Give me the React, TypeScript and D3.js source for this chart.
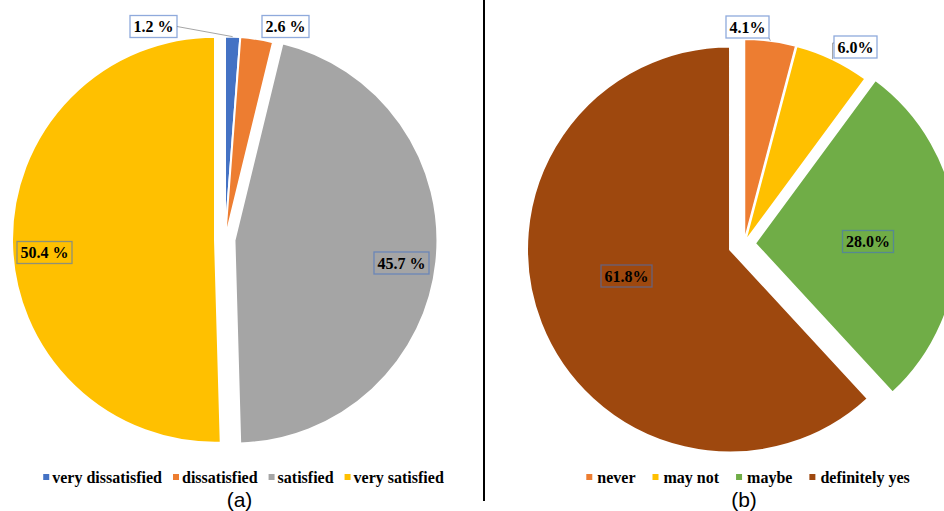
import React, { useEffect } from 'react';
import * as d3 from 'd3';

// Chart (a) satisfaction
const labelsA = ['very dissatisfied', 'dissatisfied', 'satisfied', 'very satisfied'];
const valuesA = [1.2, 2.6, 45.7, 50.4];
const textA = ['1.2 %', '2.6 %', '45.7 %', '50.4 %'];
const colorsA = ['#4472C4', '#ED7D31', '#A5A5A5', '#FFC000'];

// Chart (b) willingness
const labelsB = ['never', 'may not', 'maybe', 'definitely yes'];
const valuesB = [4.1, 6.0, 28.0, 61.8];
const textB = ['4.1%', '6.0%', '28.0%', '61.8%'];
const colorsB = ['#ED7D31', '#FFC000', '#70AD47', '#9E480E'];

const WIDTH = 944;
const HEIGHT = 511;

interface LabelSpot {
  dx: number;
  dy: number;
  boxed: boolean;
  leader: 'none' | 'straight' | 'elbow';
}

interface PieProps {
  labels: string[];
  values: number[];
  texts: string[];
  colors: string[];
  cx: number;
  cy: number;
  r: number;
  explode: number[];
  spots: LabelSpot[];
  legendCenter: number;
  legendGap: number;
  swatchGap: number;
  title: string;
}

const measure = (() => {
  const canvas = typeof document !== 'undefined' ? document.createElement('canvas') : null;
  const ctx = canvas ? canvas.getContext('2d') : null;
  return (text: string, font: string) => {
    if (!ctx) return text.length * 7;
    ctx.font = font;
    return ctx.measureText(text).width;
  };
})();

const SERIF = "'Liberation Serif', 'Times New Roman', serif";
const LABEL_FONT = `bold 16px ${SERIF}`;
const LEGEND_FONT = `bold 16px ${SERIF}`;

const PieChart: React.FC<PieProps> = (p) => {
  const pie = d3.pie<number>().sort(null).value(d => d);
  const arcs = pie(p.values);
  const arc = d3.arc<d3.PieArcDatum<number>>().innerRadius(0).outerRadius(p.r);

  // offset of each exploded slice along its mid angle
  const shift = arcs.map((a, i) => {
    const mid = (a.startAngle + a.endAngle) / 2;
    return [Math.sin(mid) * p.explode[i], -Math.cos(mid) * p.explode[i]];
  });

  // legend layout
  const swatch = 6;
  const widths = p.labels.map(l => measure(l, LEGEND_FONT));
  const itemW = widths.map(w => swatch + p.swatchGap + w);
  const total = d3.sum(itemW) + p.legendGap * (p.labels.length - 1);
  let lx = p.legendCenter - total / 2;
  const legendX = itemW.map(w => {
    const x = lx;
    lx += w + p.legendGap;
    return x;
  });

  return (
    <g>
      {arcs.map((a, i) => (
        <path
          key={p.labels[i]}
          d={arc(a) || ''}
          transform={`translate(${p.cx + shift[i][0]},${p.cy + shift[i][1]})`}
          fill={p.colors[i]}
          stroke="#fff"
          strokeWidth={2}
          strokeLinejoin="round"
        />
      ))}
      {arcs.map((a, i) => {
        const mid = (a.startAngle + a.endAngle) / 2;
        const spot = p.spots[i];
        const tw = measure(p.texts[i], LABEL_FONT);
        const bw = tw + 7;
        const bh = 22;
        const x = p.cx + spot.dx;
        const y = p.cy + spot.dy;
        const ex = p.cx + shift[i][0] + Math.sin(mid) * p.r;
        const ey = p.cy + shift[i][1] - Math.cos(mid) * p.r;
        let leader: string | null = null;
        if (spot.leader !== 'none') {
          const sx = ex < x ? x - bw / 2 : x + bw / 2;
          if (spot.leader === 'straight') {
            const sy = ey > y + bh / 2 ? y + bh / 2 : y;
            leader = `M${sx},${sy}L${ex},${ey}`;
          } else {
            leader = `M${sx},${y - 4}L${ex},${y - 4}L${ex},${ey}`;
          }
        }
        return (
          <g key={'lab' + i}>
            {leader && <path d={leader} fill="none" stroke="#a6a6a6" strokeWidth={1} />}
            <rect
              x={x - bw / 2}
              y={y - bh / 2}
              width={bw}
              height={bh}
              fill={spot.boxed ? '#fff' : 'none'}
              stroke="#4472C4"
              strokeOpacity={0.6}
              strokeWidth={1.3}
            />
            <text
              x={x}
              y={y + 5.5}
              textAnchor="middle"
              fontFamily={SERIF}
              fontWeight="bold"
              fontSize={16}
              fill="#000"
            >
              {p.texts[i]}
            </text>
          </g>
        );
      })}
      {p.labels.map((l, i) => (
        <g key={'leg' + l} transform={`translate(${legendX[i]},0)`}>
          <rect x={0} y={474} width={swatch} height={swatch} fill={p.colors[i]} />
          <text
            x={swatch + p.swatchGap}
            y={482.5}
            fontFamily={SERIF}
            fontWeight="bold"
            fontSize={16}
            fill="#000"
          >
            {l}
          </text>
        </g>
      ))}
      <text
        x={p.legendCenter - 4}
        y={507}
        textAnchor="middle"
        fontFamily="'Liberation Sans', Arial, sans-serif"
        fontSize={21}
        fill="#000"
      >
        {p.title}
      </text>
    </g>
  );
};

export default function App() {
  useEffect(() => {
    document.body.style.margin = '0';
  }, []);

  return (
    <svg width={WIDTH} height={HEIGHT} style={{ display: 'block', background: '#fff' }}>
      <rect width={WIDTH} height={HEIGHT} fill="#fff" />
      <PieChart
        labels={labelsA}
        values={valuesA}
        texts={textA}
        colors={colorsA}
        cx={225}
        cy={239.5}
        r={203}
        explode={[0, 0, 9.5, 10]}
        spots={[
          { dx: -71.5, dy: -213, boxed: true, leader: 'straight' },
          { dx: 60.5, dy: -213, boxed: true, leader: 'none' },
          { dx: 176.5, dy: 23.5, boxed: false, leader: 'none' },
          { dx: -180.5, dy: 13, boxed: false, leader: 'none' },
        ]}
        legendCenter={243.5}
        legendGap={11}
        swatchGap={3}
        title="(a)"
      />
      <line x1={484} x2={484} y1={0} y2={501} stroke="#000" strokeWidth={2} />
      <PieChart
        labels={labelsB}
        values={valuesB}
        texts={textB}
        colors={colorsB}
        cx={744}
        cy={244}
        r={203}
        explode={[2, 2, 11, 15]}
        spots={[
          { dx: 3.5, dy: -217, boxed: true, leader: 'straight' },
          { dx: 111.5, dy: -197, boxed: true, leader: 'elbow' },
          { dx: 124, dy: -2.5, boxed: false, leader: 'none' },
          { dx: -117.5, dy: 32, boxed: false, leader: 'none' },
        ]}
        legendCenter={748}
        legendGap={17}
        swatchGap={5}
        title="(b)"
      />
    </svg>
  );
}
